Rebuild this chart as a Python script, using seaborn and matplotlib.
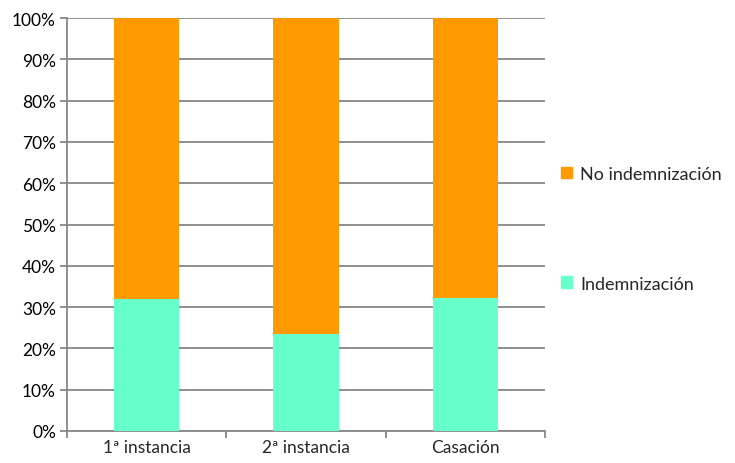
import matplotlib
matplotlib.use("Agg")
import matplotlib.pyplot as plt
import seaborn as sns
import pandas as pd
from matplotlib.patches import Patch
from matplotlib.ticker import PercentFormatter, FixedLocator

# --- Données ---
instancias = ["1ª instancia", "2ª instancia", "Casación"]
indemnizacion = [31.9, 23.4, 32.2]
no_indemnizacion = [68.1, 76.6, 67.8]

COL_NO = "#FF9900"
COL_SI = "#66FFCC"
GRID = "#878787"

df = pd.DataFrame({
    "Instancia": instancias,
    "Indemnización": indemnizacion,
    "No indemnización": no_indemnizacion,
})
df["Total"] = df["Indemnización"] + df["No indemnización"]

sns.set_style("white")
plt.rcParams["font.family"] = ["Lato", "DejaVu Sans"]

fig = plt.figure(figsize=(7.35, 4.64), dpi=100)
ax = fig.add_axes([0.0912, 0.069, 0.65, 0.890])

# barres empilées : total (orange) puis part indemnisée (vert) par-dessus
sns.barplot(data=df, x="Instancia", y="Total", color=COL_NO, saturation=1,
            width=0.41, ax=ax, zorder=3, edgecolor="none", linewidth=0)
sns.barplot(data=df, x="Instancia", y="Indemnización", color=COL_SI, saturation=1,
            width=0.41, ax=ax, zorder=4, edgecolor="none", linewidth=0)

ax.set_xlim(-0.5, 2.5)
ax.set_ylim(0, 100)
ax.set_yticks(range(0, 101, 10))
ax.yaxis.set_major_formatter(PercentFormatter(decimals=0))
ax.grid(axis="y", color=GRID, linewidth=1.3, zorder=0)
ax.set_axisbelow(True)

for s in ["top", "right"]:
    ax.spines[s].set_visible(False)
for s in ["left", "bottom"]:
    ax.spines[s].set_color(GRID)
    ax.spines[s].set_linewidth(1.3)

ax.tick_params(axis="y", which="major", left=True, length=5, width=1.3,
               color=GRID, labelsize=12.5, labelcolor="black", pad=3)
ax.tick_params(axis="x", which="major", length=0, labelsize=12.5, pad=6)
ax.xaxis.set_minor_locator(FixedLocator([-0.5, 0.5, 1.5, 2.5]))
ax.tick_params(axis="x", which="minor", bottom=True, length=5, width=1.3, color=GRID)
ax.set_xlabel("")
ax.set_ylabel("")

handles = [Patch(color=COL_NO, label="No indemnización"),
           Patch(color=COL_SI, label="Indemnización")]
ax.legend(handles=handles, loc="center left", bbox_to_anchor=(1.0, 0.49),
          frameon=False, fontsize=13, handlelength=0.6, handleheight=0.6,
          handletextpad=0.45, labelspacing=5.2)

fig.savefig("out.png", dpi=100)
